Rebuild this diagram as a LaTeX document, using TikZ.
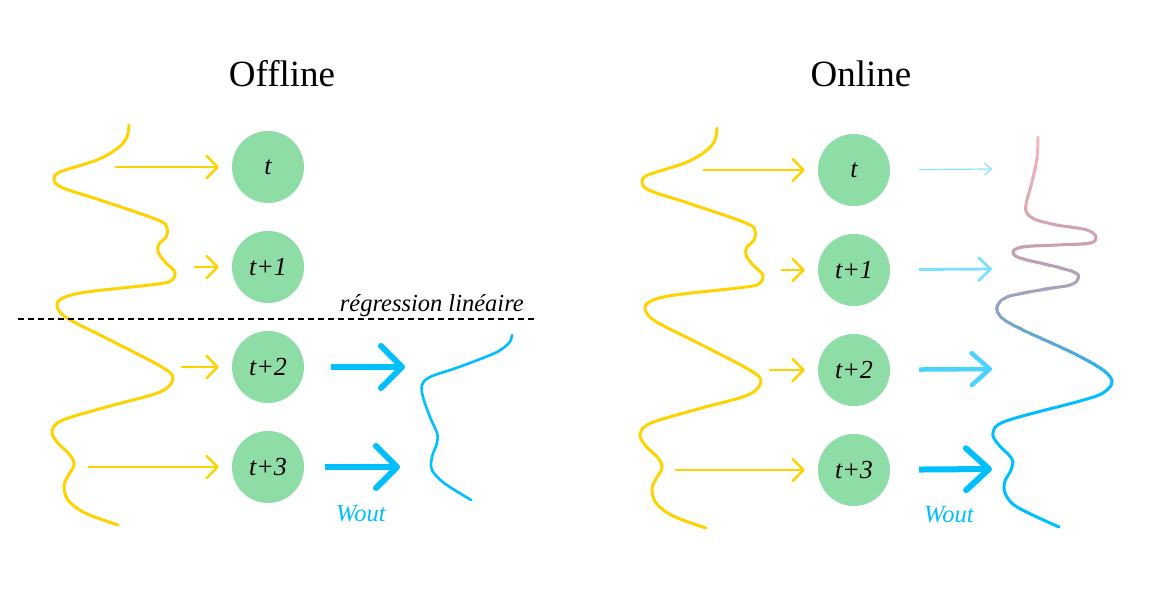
\documentclass[tikz,border=0pt]{standalone}
\usepackage{fontspec}
\setmainfont{Liberation Serif}
\usetikzlibrary{arrows.meta, positioning}

\definecolor{stagegreen}{HTML}{8EDCA6}
\definecolor{signalyellow}{HTML}{FFD300}
\definecolor{woutcyan}{HTML}{00BFFF}
\definecolor{onpink}{HTML}{FABAC1}
\definecolor{onmauve}{HTML}{CDA0AE}
\definecolor{ongrey}{HTML}{A2A3BE}
\definecolor{onsteel}{HTML}{55A8D6}

\newcommand{\inputcurve}{plot coordinates {(129,125) (127,137) (118,148) (97,160) (60,172) (54,180) (63,188) (100,200) (158,220) (167,228) (166,237) (159,244) (158,252) (165,262) (175,272) (172,280) (158,284) (87,292) (63,298) (57,306) (67,318) (110,340) (160,366) (173,378) (160,392) (110,406) (63,420) (52,431) (57,442) (70,455) (74,465) (68,476) (64,486) (68,500) (85,513) (118,525)}}
\newcommand{\onlinecurve}{plot coordinates {(1038,137) (1037,158) (1032,182) (1027,200) (1026,211) (1034,219) (1057,225) (1087,230) (1096,237) (1090,243) (1057,245) (1022,247) (1013,252) (1020,258) (1057,267) (1076,273) (1078,279) (1070,285) (1040,290) (1007,297) (997,307) (1002,318) (1023,330) (1073,353) (1103,370) (1112,382) (1103,393) (1080,401) (1006,421) (993,433) (998,444) (1012,459) (1011,470) (1005,481) (1005,493) (1017,507) (1059,527)}}

\begin{document}
\begin{tikzpicture}[x=1pt, y=-1pt,
        stage/.style={circle, fill=stagegreen, minimum size=72pt, inner sep=0pt, font=\fontsize{26}{26}\selectfont\itshape},
        feed/.style={draw=signalyellow, line width=2.5pt, -{Straight Barb[length=11pt, width=22pt, round]}, shorten >=13pt},
        wout/.style={draw=woutcyan, line width=6pt, -{Straight Barb[length=21pt, width=42pt, round]}},
        signal/.style={line width=3pt, line cap=round, line join=round, smooth, tension=0.55},
        cut/.style={line width=2.8pt, dash pattern=on 6pt off 4pt},
        title/.style={font=\fontsize{37}{37}\selectfont, anchor=base},
        tag/.style={inner sep=0pt, font=\fontsize{24.5}{24.5}\selectfont\itshape}
    ]
        \path[use as bounding box, fill=white] (0,0) rectangle (1152,597);

        % Titles
        \node[title] (offtitle) at (282,86) {Offline};
        \node[title] (ontitle) at (861,86) {Online};

        % Input signals
        \draw[signal, draw=signalyellow] \inputcurve;
        \draw[signal, draw=signalyellow, xshift=588pt, yshift=-3pt] \inputcurve;

        % Output signals
        \draw[signal, line width=2.6pt, draw=woutcyan] plot coordinates {(512,335) (509,343) (495,353) (459,367) (430,377) (422,385) (423,397) (430,417) (437,433) (437,443) (432,457) (432,470) (444,483) (471,500)};
        \foreach \ya/\yb/\ca/\cb in {130/245/onpink/onmauve, 245/295/onmauve/ongrey, 295/350/ongrey/onsteel, 350/390/onsteel/woutcyan} {
            \foreach \k in {0,...,11} {
                \pgfmathtruncatemacro\p{100-100*(\k+0.5)/12}
                \begin{scope}
                    \clip (950, {\ya+(\yb-\ya)*\k/12-0.4}) rectangle (1150, {\ya+(\yb-\ya)*(\k+1)/12+0.4});
                    \draw[signal, draw=\ca!\p!\cb] \onlinecurve;
                \end{scope}
            }
        }
        \begin{scope}
            \clip (950,390) rectangle (1150,540);
            \draw[signal, draw=woutcyan] \onlinecurve;
        \end{scope}

        % Offline column
        \foreach \lab [count=\i] in {t, t+1, t+2, t+3} { \node[stage] (off\i) at (268, 67+100*\i) {\lab}; }
        \foreach \i/\xs in {1/115, 2/194, 3/181, 4/88} {
            \coordinate (offin\i) at (\xs, 67+100*\i);
            \draw[feed] (offin\i) -- (off\i);
        }
        \coordinate (offout3) at (405,367);
        \coordinate (offout4) at (400,467);
        \draw[wout, shorten <=27pt] (off3) -- (offout3);
        \draw[wout, shorten <=21pt] (off4) -- (offout4);

        % Online column
        \foreach \lab [count=\i] in {t, t+1, t+2, t+3} { \node[stage] (on\i) at (854, 70+100*\i) {\lab}; }
        \foreach \i/\xs in {1/703, 2/781, 3/769, 4/675} {
            \coordinate (onin\i) at (\xs, 70+100*\i);
            \draw[feed] (onin\i) -- (on\i);
        }
        \foreach \i/\w/\hl/\hw/\s in {1/1.2/7/12/45, 2/2.8/12/23/50, 3/4.5/18/32/70, 4/6/23/42/100} {
            \coordinate (onout\i) at (992, 69+100*\i);
            \draw[draw=woutcyan!\s, line width=\w pt, -{Straight Barb[length=\hl pt, width=\hw pt, round]}, shorten <=29pt] (on\i) -- (onout\i);
        }

        % Split and labels
        \coordinate (cutl) at (18,319);
        \coordinate (cutr) at (535,319);
        \draw[cut] (cutl) -- (cutr);
        \node[tag, anchor=base east] (reglab) at (524,311) {régression linéaire};
        \node[tag, anchor=base west, text=woutcyan] (offw) at (336,521) {Wout};
        \node[tag, anchor=base west, text=woutcyan] (onw) at (924,522) {Wout};
    \end{tikzpicture}
\end{document}
